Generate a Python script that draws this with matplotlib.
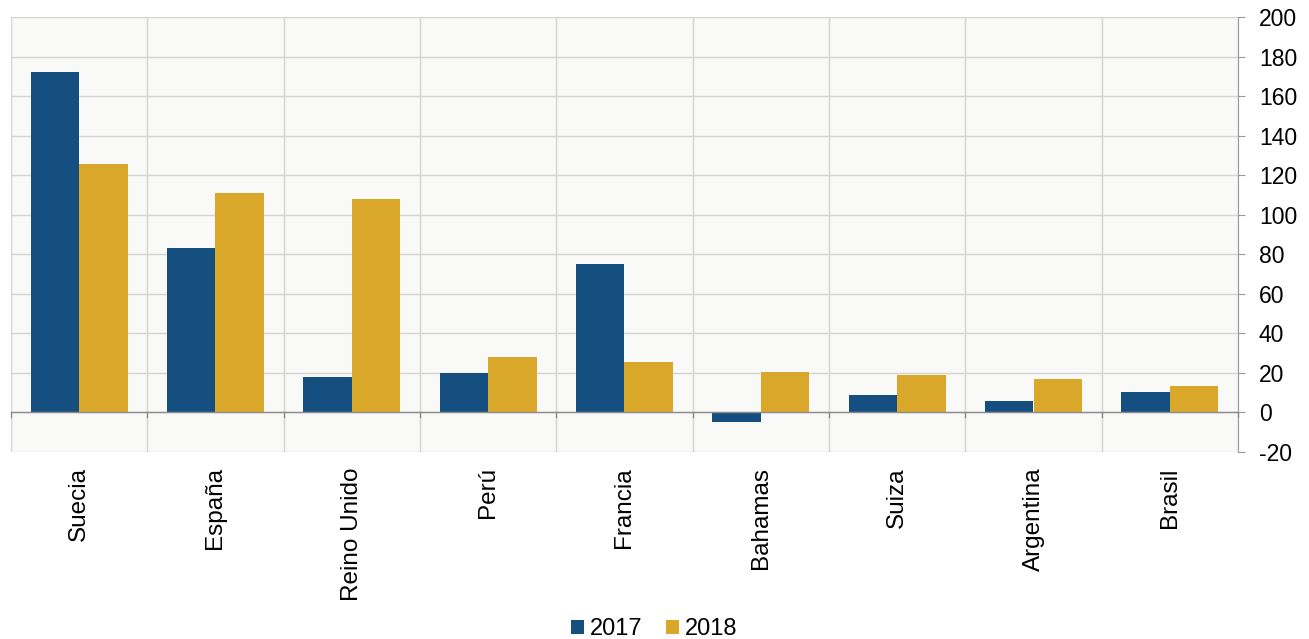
import matplotlib
matplotlib.use("Agg")
import matplotlib.pyplot as plt
import numpy as np
from matplotlib.ticker import FuncFormatter

categories = ["Suecia", "España", "Reino Unido", "Perú", "Francia", "Bahamas", "Suiza", "Argentina", "Brasil"]
v2017 = [172, 83, 18, 20, 75, -5, 9, 6, 10.5]
v2018 = [125.5, 111, 108, 28, 25.5, 20.5, 19, 17, 13.5]
yticks = [-20, 0, 20, 40, 60, 80, 100, 120, 140, 160, 180, 200]

c2017 = "#154f80"
c2018 = "#d9a72a"

plt.rcParams['font.family'] = ['Liberation Sans', 'DejaVu Sans']
fig = plt.figure(figsize=(13.09, 6.39), dpi=100)
ax = fig.add_axes([11/1309, 1-452/639, (1238-11)/1309, (452-17)/639])
ax.set_facecolor("#f9f9f7")

x = np.arange(len(categories))
w = 0.355
ax.bar(x - w/2, v2017, w, color=c2017, label="2017", zorder=3)
ax.bar(x + w/2, v2018, w, color=c2018, label="2018", zorder=3)

ax.set_xlim(-0.5, len(categories) - 0.5)
ax.set_ylim(-20, 200)
ax.set_yticks(yticks)
ax.yaxis.set_major_formatter(FuncFormatter(lambda v, p: f"{int(v)}"))
ax.yaxis.tick_right()
ax.tick_params(axis='y', direction='out', length=5, color="#999999", labelsize=16.5, pad=10)
ax.set_xticks(x)
ax.set_xticklabels(categories, rotation=90, fontsize=17.5)
ax.tick_params(axis='x', length=0, pad=11)

# grid
for yv in yticks:
    ax.axhline(yv, color="#d4d4d4", lw=1, zorder=1)
for b in np.arange(-0.5, len(categories)):
    ax.axvline(b, color="#d4d4d4", lw=1, zorder=1)
ax.axhline(0, color="#8c8c8c", lw=1, zorder=4)
for b in np.arange(-0.5, len(categories)):
    ax.plot([b, b], [0, -2.2], color="#8c8c8c", lw=1, zorder=4, clip_on=False)

for s in ["top", "left", "bottom"]:
    ax.spines[s].set_visible(False)
ax.spines["right"].set_color("#999999")

fig.legend(loc="lower center", bbox_to_anchor=(0.5, -0.035), ncol=2, frameon=False,
           fontsize=17, handlelength=0.55, handleheight=0.55, handletextpad=0.25, columnspacing=1.0)

fig.savefig("out.png", dpi=100)
